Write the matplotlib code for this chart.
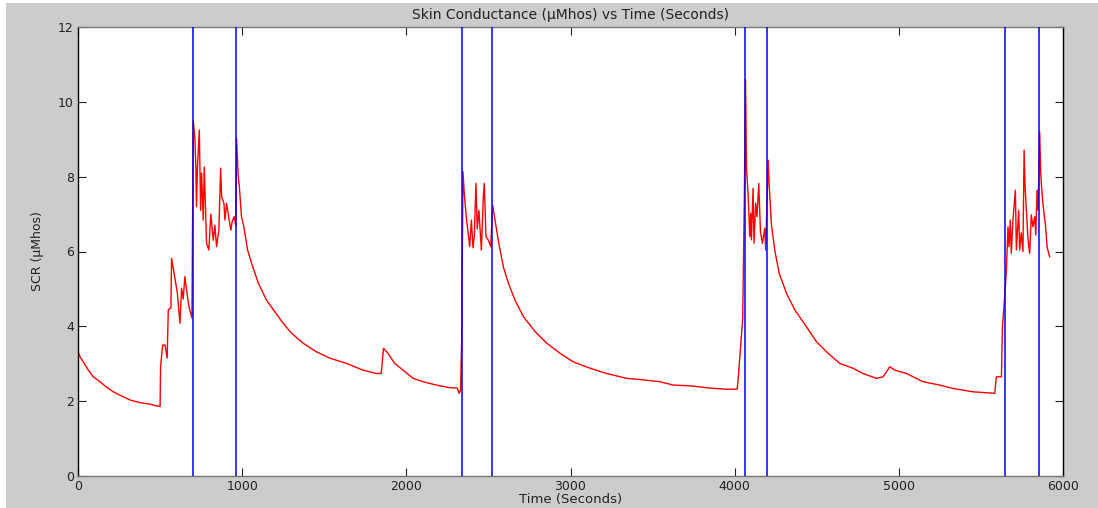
import matplotlib.pyplot as plt
from matplotlib.patches import Rectangle

# skin conductance trace
time_s = [0, 12, 32, 63, 93, 134, 175, 215, 256, 317, 378, 440, 470, 500,
          503, 516, 530, 543, 550, 566, 570, 584, 605, 621, 631, 641, 651, 662, 676, 694,
          702, 712, 718, 722, 728, 739, 747, 753, 763, 769, 783, 797, 809, 824, 834, 844,
          858, 869, 875, 889, 895, 905, 915, 931, 939, 951, 961,
          966, 976, 982, 996, 1010, 1033, 1057, 1098, 1148, 1199, 1250, 1300, 1371, 1452,
          1534, 1635, 1736, 1817, 1847, 1861, 1888, 1929, 1980, 2041, 2102, 2183, 2265,
          2310, 2322, 2330, 2337,
          2345, 2353, 2365, 2386, 2396, 2406, 2414, 2424, 2432, 2442, 2457, 2469, 2475,
          2485, 2500, 2514,
          2526, 2540, 2567, 2591, 2622, 2662, 2713, 2784, 2855, 2936, 3017, 3119, 3220,
          3342, 3443, 3545, 3626, 3727, 3850, 3950, 4015, 4021, 4036, 4049, 4059,
          4066, 4072, 4082, 4092, 4098, 4102, 4112, 4118, 4128, 4136, 4147, 4157, 4169,
          4183, 4189,
          4204, 4210, 4224, 4244, 4271, 4316, 4366, 4437, 4498, 4569, 4640, 4721, 4782,
          4863, 4904, 4945, 4975, 5046, 5148, 5249, 5330, 5452, 5584, 5594, 5625, 5631, 5639,
          5649, 5655, 5665, 5671, 5679, 5685, 5696, 5710, 5716, 5730, 5736, 5746, 5756,
          5763, 5769, 5777, 5787, 5797, 5807, 5817, 5828, 5834, 5842, 5848,
          5858, 5864, 5872, 5884, 5893, 5903, 5913, 5919]
scr = [3.32, 3.19, 3.05, 2.83, 2.65, 2.52, 2.37, 2.25, 2.16, 2.03, 1.96, 1.92, 1.88, 1.86,
       2.92, 3.50, 3.50, 3.15, 4.44, 4.50, 5.82, 5.45, 4.90, 4.08, 5.02, 4.73, 5.33, 4.95, 4.52, 4.22,
       9.51, 9.03, 8.23, 7.20, 8.30, 9.25, 7.10, 8.10, 6.84, 8.26, 6.22, 6.04, 7.00, 6.30, 6.70, 6.13,
       6.57, 8.23, 7.46, 7.29, 6.84, 7.29, 7.00, 6.57, 6.80, 6.93, 6.70,
       9.02, 8.00, 7.78, 6.93, 6.66, 6.04, 5.69, 5.16, 4.70, 4.39, 4.08, 3.82, 3.55, 3.32,
       3.15, 3.01, 2.83, 2.74, 2.74, 3.41, 3.28, 3.01, 2.83, 2.61, 2.52, 2.43, 2.36,
       2.35, 2.21, 2.30, 3.59,
       8.13, 7.55, 6.93, 6.13, 6.84, 6.10, 6.40, 7.82, 6.60, 7.10, 6.04, 7.46, 7.82,
       6.40, 6.30, 6.13,
       7.24, 6.84, 6.13, 5.59, 5.15, 4.70, 4.26, 3.86, 3.55, 3.28, 3.05, 2.88, 2.74,
       2.61, 2.57, 2.52, 2.43, 2.41, 2.35, 2.32, 2.32, 2.57, 3.46, 4.21, 7.46,
       10.6, 8.22, 7.51, 6.40, 7.02, 6.31, 7.69, 6.22, 7.29, 6.93, 7.82, 6.53, 6.22,
       6.62, 6.04,
       8.44, 7.78, 6.71, 6.04, 5.42, 4.88, 4.44, 3.99, 3.59, 3.28, 3.01, 2.88, 2.74,
       2.61, 2.65, 2.92, 2.83, 2.74, 2.52, 2.43, 2.34, 2.25, 2.21, 2.65, 2.65, 3.99, 4.44,
       5.06, 5.50, 6.66, 6.13, 6.84, 5.95, 6.89, 7.64, 6.04, 7.10, 6.04, 6.50, 6.00,
       8.71, 7.73, 7.10, 6.31, 5.95, 6.98, 6.66, 6.93, 6.44, 7.64, 7.10,
       9.20, 8.13, 7.55, 7.02, 6.71, 6.13, 5.95, 5.86]

# event markers (seconds)
events = [700, 962, 2339, 2521, 4062, 4196, 5645, 5853]

x_ticks = [0, 1000, 2000, 3000, 4000, 5000, 6000]
y_ticks = [0, 2, 4, 6, 8, 10, 12]

plt.rcParams['font.family'] = ['DejaVu Sans']

fig = plt.figure(figsize=(10.98, 5.08), dpi=100, facecolor='#cccccc')
# thin white margin at left and top of the screenshot
fig.patches.append(Rectangle((0, 0), 6 / 1098, 1, transform=fig.transFigure,
                             facecolor='white', edgecolor='none', zorder=-1))
fig.patches.append(Rectangle((0, 1 - 3 / 508), 1, 3 / 508, transform=fig.transFigure,
                             facecolor='white', edgecolor='none', zorder=-1))

ax = fig.add_axes([78 / 1098, 32 / 508, 985 / 1098, 449 / 508])
ax.set_facecolor('white')

for t in events:
    ax.axvline(t, color='#0000ff', lw=1.1, zorder=3)
ax.plot(time_s, scr, color='#ff0000', lw=1.0, zorder=2)

ax.set_xlim(0, 6000)
ax.set_ylim(0, 12)
ax.set_xticks(x_ticks)
ax.set_yticks(y_ticks)
ax.tick_params(direction='in', length=5.5, width=0.8, top=True, right=True,
               labelsize=9, colors='#222222', pad=3)

for side in ['left', 'right']:
    ax.spines[side].set_color('black')
for side in ['top', 'bottom']:
    ax.spines[side].set_color('#777777')
for sp in ax.spines.values():
    sp.set_linewidth(1.0)

ax.set_title('Skin Conductance (\u00b5Mhos) vs Time (Seconds)', fontsize=10, color='#222222', pad=6)
ax.set_xlabel('Time (Seconds)', fontsize=9.5, color='#222222', labelpad=0)
ax.set_ylabel('SCR (\u00b5Mhos)', fontsize=9, color='#222222', labelpad=10)

fig.savefig('out.png', dpi=100, facecolor=fig.get_facecolor())
